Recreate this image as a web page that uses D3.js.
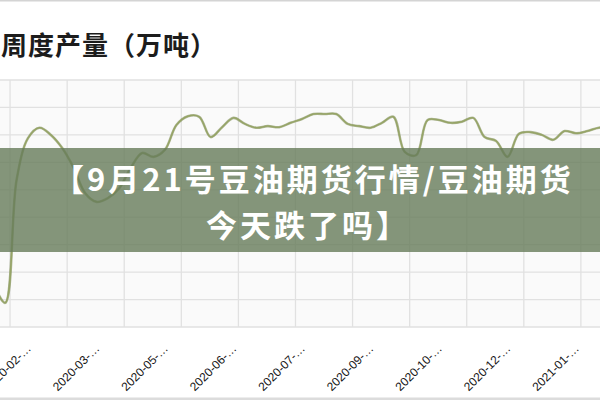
<!DOCTYPE html>
<html>
<head>
<meta charset="utf-8">
<script src="https://cdn.jsdelivr.net/npm/d3@7"></script>
<style>
  html, body { margin: 0; padding: 0; background: #fff; }
  svg { display: block; }
</style>
</head>
<body>
<div id="chart"></div>
<script>
// weekly output, one point per Friday
const weekDates = [
  "2020-01-24","2020-01-31","2020-02-07","2020-02-14","2020-02-21","2020-02-28",
  "2020-03-06","2020-03-13","2020-03-20","2020-03-27","2020-04-03","2020-04-10",
  "2020-04-17","2020-04-24","2020-05-01","2020-05-08","2020-05-15","2020-05-22",
  "2020-05-29","2020-06-05","2020-06-12","2020-06-19","2020-06-26","2020-07-03",
  "2020-07-10","2020-07-17","2020-07-24","2020-07-31","2020-08-07","2020-08-14",
  "2020-08-21","2020-08-28","2020-09-04","2020-09-11","2020-09-18","2020-09-25",
  "2020-10-02","2020-10-09","2020-10-16","2020-10-23","2020-10-30","2020-11-06",
  "2020-11-13","2020-11-20","2020-11-27","2020-12-04","2020-12-11","2020-12-18",
  "2020-12-25","2021-01-01","2021-01-08","2021-01-15","2021-01-22","2021-01-29",
  "2021-02-05"
];
const weekOutput = [
  7.7, 4.4, 26.8, 34.4, 36.3, 35.0,
  32.6, 29.0, 24.4, 22.8, 23.5, 25.3,
  29.0, 31.7, 31.0, 32.3, 36.8, 38.4,
  38.3, 34.6, 36.4, 38.1, 37.0, 36.3,
  36.6, 36.4, 37.2, 37.9, 38.8, 38.8,
  38.8, 37.0, 36.6, 36.3, 37.2, 38.3,
  31.9, 31.3, 37.7, 37.7, 37.2, 37.4,
  38.1, 34.6, 33.9, 31.0, 35.2, 35.5,
  35.0, 34.1, 35.7, 35.3, 35.7, 36.3,
  36.4
];

// x labels (truncated like the original)
const labelDates = ["2020-02-14","2020-03-27","2020-05-08","2020-06-19","2020-07-31",
                    "2020-09-11","2020-10-23","2020-12-04","2021-01-15"];
const labelTexts = ["2020-02-…","2020-03-…","2020-05-…","2020-06-…","2020-07-…",
                    "2020-09-…","2020-10-…","2020-12-…","2021-01-…"];
// vertical grid lines
const gridDates = ["2020-02-03","2020-03-09","2020-04-13","2020-05-18","2020-06-22",
                   "2020-07-27","2020-08-31","2020-10-05","2020-11-09","2020-12-14",
                   "2021-01-18"];
const yGridValues = [0, 5, 10, 15, 20, 25, 30, 35, 40, 45];

const chartTitle = "周度产量（万吨）";
const bannerLines = ["【9月21号豆油期货行情/豆油期货", "今天跌了吗】"];

const width = 600, height = 400;
const plotTop = 80, plotBottom = 327;
const parse = d3.timeParse("%Y-%m-%d");

const data = weekDates.map((d, i) => ({date: parse(d), value: weekOutput[i]}));

const x = d3.scaleTime()
    .domain([parse("2020-02-14"), parse("2021-01-15")])
    .range([28, 576]);
const y = d3.scaleLinear()
    .domain([0, 45])
    .range([plotBottom, plotTop]);

const svg = d3.select("#chart").append("svg")
    .attr("width", width)
    .attr("height", height)
    .attr("viewBox", [0, 0, width, height]);

// frame lines top / bottom
svg.append("rect").attr("x", 0).attr("y", 0).attr("width", width).attr("height", 1.5).attr("fill", "#d4d4d4");
svg.append("rect").attr("x", 0).attr("y", height - 2.5).attr("width", width).attr("height", 2.5).attr("fill", "#dcdcdc");

// title
svg.append("text")
    .attr("x", 1)
    .attr("y", 55)
    .attr("font-family", "'Noto Sans CJK SC', sans-serif")
    .attr("font-size", 26)
    .attr("font-weight", 700)
    .attr("letter-spacing", 1)
    .attr("fill", "#1c1c1c")
    .text(chartTitle);

// plot background
svg.append("rect")
    .attr("x", 0).attr("y", plotTop)
    .attr("width", width).attr("height", plotBottom - plotTop)
    .attr("fill", "#fafafa");

// grid
const grid = svg.append("g").attr("stroke", "#e1e1e1").attr("stroke-width", 1.3);
grid.selectAll("line.h")
  .data(yGridValues)
  .join("line")
    .attr("class", "h")
    .attr("x1", 0).attr("x2", width)
    .attr("y1", d => y(d)).attr("y2", d => y(d));
grid.selectAll("line.v")
  .data(gridDates.map(parse))
  .join("line")
    .attr("class", "v")
    .attr("x1", d => x(d)).attr("x2", d => x(d))
    .attr("y1", plotTop).attr("y2", plotBottom);

// x labels
svg.append("g")
  .selectAll("text")
  .data(labelDates.map((d, i) => ({date: parse(d), text: labelTexts[i]})))
  .join("text")
    .attr("transform", d => `translate(${x(d.date) + 1.5},347) rotate(-45)`)
    .attr("text-anchor", "end")
    .attr("dominant-baseline", "middle")
    .attr("font-family", "'Liberation Sans', Arial, sans-serif")
    .attr("font-size", 12)
    .attr("fill", "#161616")
    .text(d => d.text);

// the series
const line = d3.line()
    .x(d => x(d.date))
    .y(d => y(d.value))
    .curve(d3.curveCatmullRom.alpha(0.5));

svg.append("path")
    .datum(data)
    .attr("fill", "none")
    .attr("stroke", "#76864c")
    .attr("stroke-width", 2.6)
    .attr("stroke-opacity", 0.55)
    .attr("d", line);
svg.append("path")
    .datum(data)
    .attr("fill", "none")
    .attr("stroke", "#96a466")
    .attr("stroke-width", 1.5)
    .attr("d", line);

// banner overlay
svg.append("rect")
    .attr("x", 0).attr("y", 148)
    .attr("width", width).attr("height", 104)
    .attr("fill", "#677c5a")
    .attr("fill-opacity", 0.8);

const banner = svg.append("g")
    .attr("font-family", "'Noto Sans CJK SC', sans-serif")
    .attr("font-size", 31)
    .attr("font-weight", 700)
    .attr("letter-spacing", 3)
    .attr("fill", "#ffffff");
banner.append("text").attr("x", 53).attr("y", 191).text(bannerLines[0]);
banner.append("text").attr("x", 206).attr("y", 237).text(bannerLines[1]);
</script>
</body>
</html>
